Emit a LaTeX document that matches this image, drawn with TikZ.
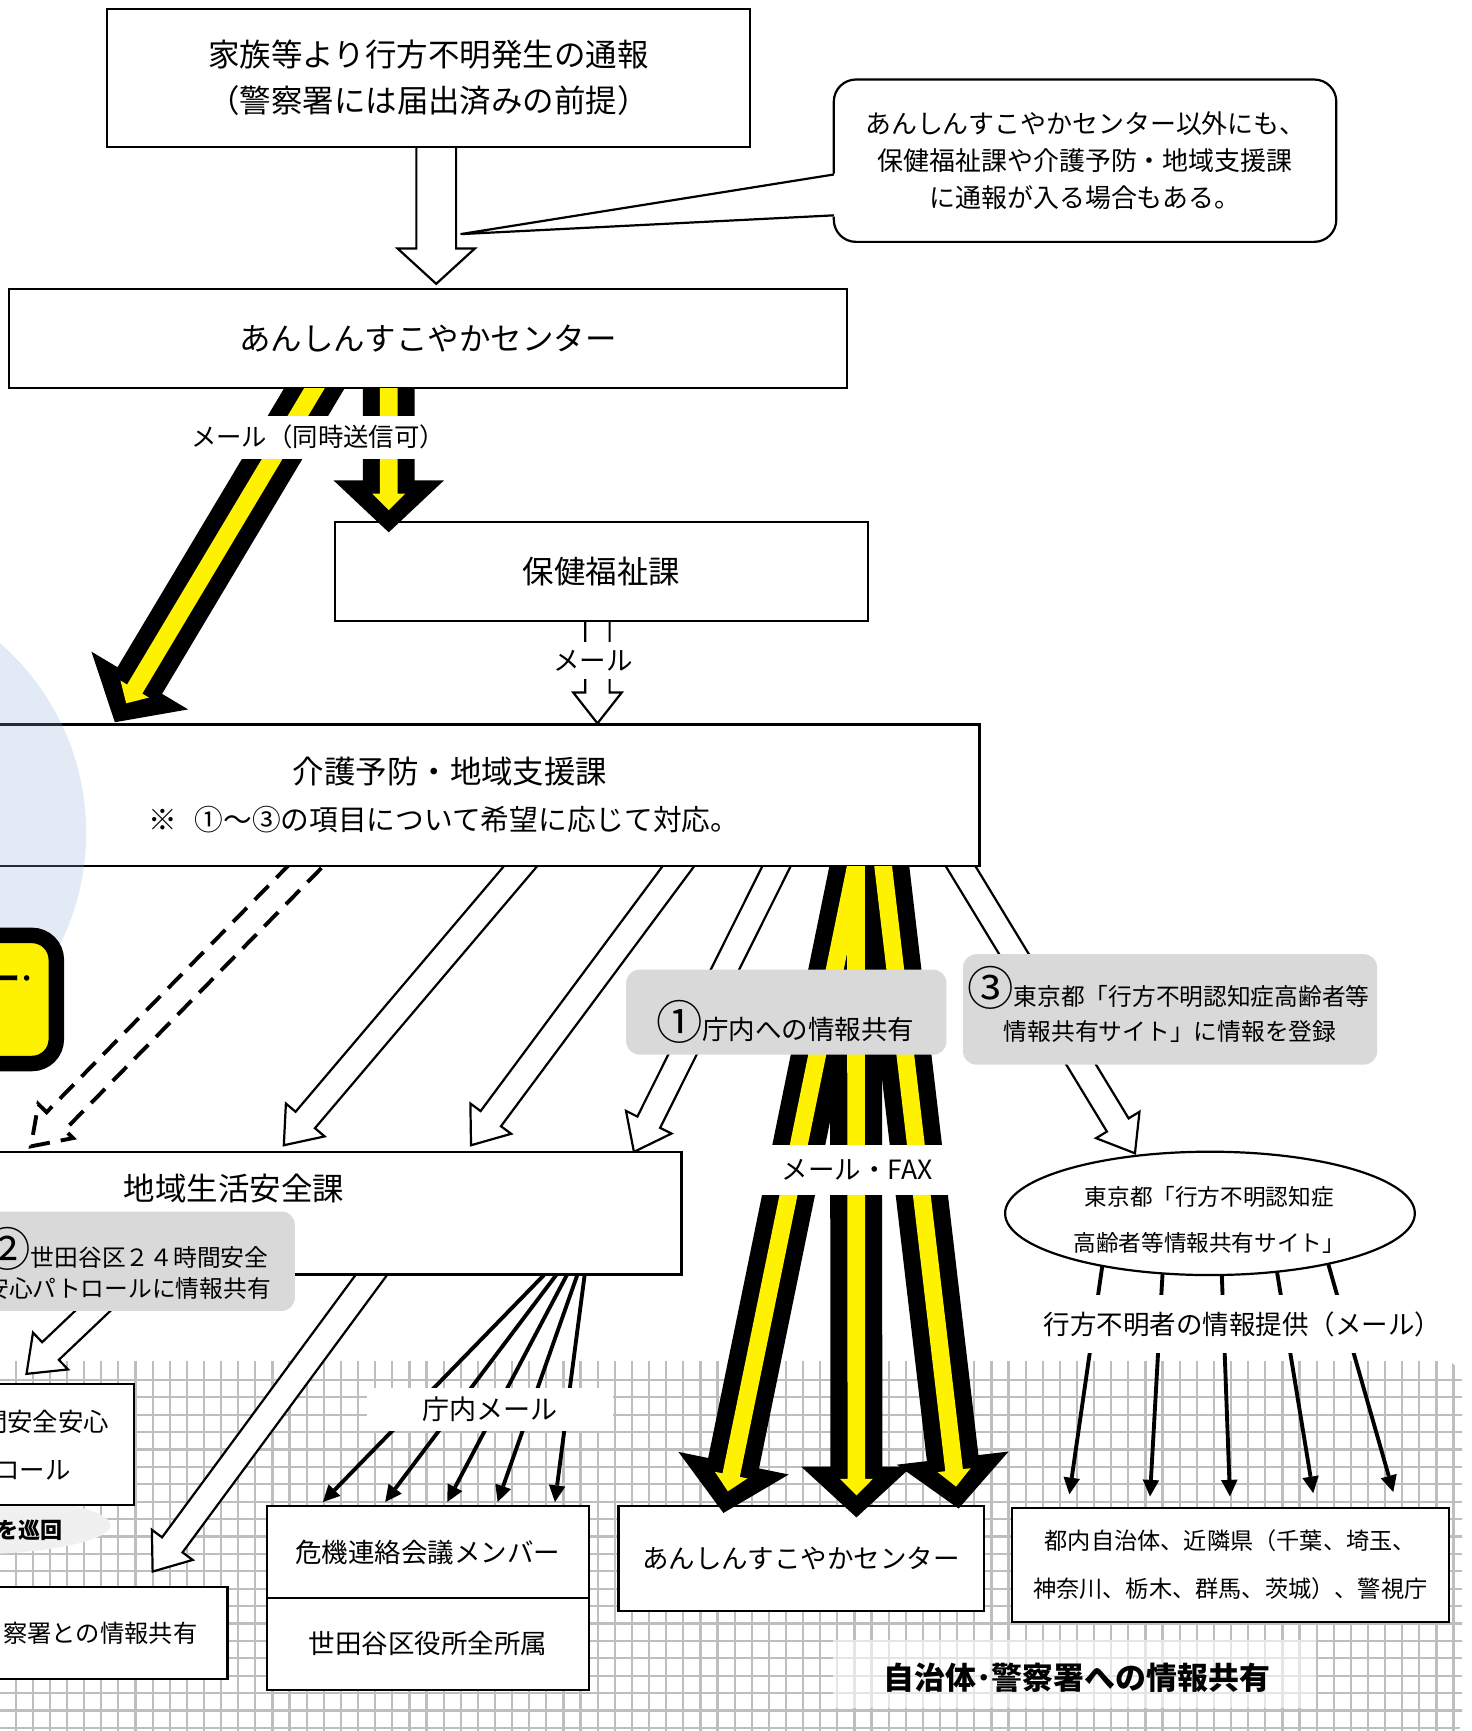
\documentclass[tikz,border=0pt]{standalone}
\usepackage{fontspec}
\setmainfont{Noto Sans CJK JP}
\usetikzlibrary{arrows.meta,shapes.geometric}
\definecolor{lgray}{RGB}{217,217,217}
\definecolor{egray}{RGB}{240,240,240}
\definecolor{gridc}{RGB}{190,190,190}
\definecolor{cblue}{RGB}{140,172,220}
\newcommand\fsz[2]{\fontsize{#1}{#2}\selectfont}
% #1 style, #2 from, #3 to, #4 half shaft, #5 half head, #6 head length, #7 tip setback
\newcommand\blockarr[7]{%
  \path (#2); \pgfgetlastxy{\baX}{\baY}%
  \path (#3); \pgfgetlastxy{\bbX}{\bbY}%
  \pgfmathsetmacro\bANG{atan2((\bbY)-(\baY),(\bbX)-(\baX))}%
  \pgfmathsetmacro\bLEN{100*veclen(((\bbX)-(\baX))/100,((\bbY)-(\baY))/100)-(#7)}%
  \pgfmathsetmacro\bNECK{\bLEN-(#6)}%
  \path[#1,shift={(#2)},rotate=\bANG] (0pt,-#4pt) -- (\bNECK pt,-#4pt) -- (\bNECK pt,-#5pt) -- (\bLEN pt,0pt) -- (\bNECK pt,#5pt) -- (\bNECK pt,#4pt) -- (0pt,#4pt) -- cycle;%
}
\begin{document}
\begin{tikzpicture}[x=1pt,y=-1pt,
  box/.style={draw,line width=2pt,fill=white,inner sep=0pt,align=center},
  glabel/.style={fill=lgray,rounded corners=12pt,inner sep=0pt},
  wlabel/.style={fill=white,inner sep=0pt},
  txt/.style={inner sep=0pt,align=center},
  hollow/.style={fill=white,draw=black,line width=2pt,line join=miter},
  dasharr/.style={draw=black,line width=3.5pt,dash pattern=on 18pt off 10pt},
  youter/.style={fill=black},
  yinner/.style={fill=yellow},
  thinarr/.style={line width=3.5pt,-{Triangle[length=15pt,width=15pt,line width=0pt]}},
  gridline/.style={draw=gridc,line width=2pt},
]
\useasboundingbox (0,0) rectangle (1332,1567.4);
\clip (0,0) rectangle (1332,1567.4);

% ---------- grid area ----------
\begin{scope}
  \clip[rounded corners=18pt] (-20,1232) rectangle (1324,1574);
  \fill[white] (-20,1232) rectangle (1324,1574);
  \foreach \i in {0,...,86} \draw[gridline] ({-1.3+15.5*\i},1232) -- ({-1.3+15.5*\i},1580);
  \foreach \j in {1,...,22} \draw[gridline] (-20,{1233.8+15.75*\j}) -- (1330,{1233.8+15.75*\j});
\end{scope}
\fill[white,opacity=0.6] (754,1485) rectangle (1192,1547);
\node[txt,font=\fsz{28}{28}\bfseries] (title) at (975,1519) {自治体･警察署への情報共有};

% ---------- coordinates ----------
\coordinate (h1s) at (395,120);   \coordinate (h1e) at (395,257);
\coordinate (y1s) at (352,340);   \coordinate (y1e) at (352,482);
\coordinate (y2s) at (291.6,340); \coordinate (y2e) at (104,654);
\coordinate (h2s) at (541,540);   \coordinate (h2e) at (541,655);
\coordinate (dds) at (290.6,770); \coordinate (dde) at (28,1038);
\coordinate (has) at (483.5,770); \coordinate (hae) at (257,1037);
\coordinate (hbs) at (624.9,770); \coordinate (hbe) at (426.5,1037);
\coordinate (hcs) at (710.3,770); \coordinate (hce) at (574,1043);
\coordinate (hds) at (861.1,770); \coordinate (hde) at (1027.7,1044.3);
\coordinate (y3s) at (777.9,770); \coordinate (y3e) at (655,1370);
\coordinate (y4s) at (775,770);   \coordinate (y4e) at (775.5,1374);
\coordinate (y5s) at (798,770);   \coordinate (y5e) at (868,1366);
\coordinate (pts) at (133.4,1140); \coordinate (pte) at (24,1244);
\coordinate (pos) at (346.9,1140); \coordinate (poe) at (138.2,1423);
\coordinate (f1s) at (495,1152);   \coordinate (f1e) at (292.4,1360);
\coordinate (f2s) at (505.5,1152); \coordinate (f2e) at (348.8,1360);
\coordinate (f3s) at (514.6,1152); \coordinate (f3e) at (405,1360);
\coordinate (f4s) at (523.6,1152); \coordinate (f4e) at (450.6,1360);
\coordinate (f5s) at (529.7,1152); \coordinate (f5e) at (502.5,1360);
\coordinate (t1s) at (999,1140);    \coordinate (t1e) at (968.3,1353);
\coordinate (t2s) at (1053.4,1140); \coordinate (t2e) at (1041.3,1355);
\coordinate (t3s) at (1105.8,1140); \coordinate (t3e) at (1113.7,1355);
\coordinate (t4s) at (1154.4,1140); \coordinate (t4e) at (1189.1,1352);
\coordinate (t5s) at (1201.4,1140); \coordinate (t5e) at (1261.6,1351);

% ---------- hollow / dashed / thin arrows (under boxes) ----------
\blockarr{hollow}{h1s}{h1e}{18}{35}{32}{0}
\blockarr{hollow}{h2s}{h2e}{11}{22}{28}{0}
\blockarr{dasharr}{dds}{dde}{11.5}{22}{32}{0}
\blockarr{hollow}{has}{hae}{11.5}{23}{30}{0}
\blockarr{hollow}{hbs}{hbe}{11.5}{23}{30}{0}
\blockarr{hollow}{hcs}{hce}{11.5}{23}{30}{0}
\blockarr{hollow}{hds}{hde}{11.5}{23}{30}{0}
\blockarr{hollow}{pts}{pte}{11}{23}{30}{0}
\blockarr{hollow}{pos}{poe}{11.5}{23}{30}{0}
\foreach \k in {1,...,5} \draw[thinarr] (f\k s) -- (f\k e);
\foreach \k in {1,...,5} \draw[thinarr] (t\k s) -- (t\k e);

% ---------- boxes ----------
\node[box,minimum width=582pt,minimum height=125pt,font=\fsz{28.5}{42}] (top) at (388,70.5)
  {家族等より行方不明発生の通報\\（警察署には届出済みの前提）};
\node[box,rounded corners=20pt,minimum width=455pt,minimum height=147pt,font=\fsz{23.5}{33.5}] (note) at (982.5,145.5)
  {あんしんすこやかセンター以外にも、\\保健福祉課や介護予防・地域支援課\\に通報が入る場合もある。};
\coordinate (ptip) at (417,212);
\fill[white] (757,157) -- (ptip) -- (757,196) -- cycle;
\draw[line width=2pt] (755,158) -- (ptip) -- (755,195);

\node[box,minimum width=759pt,minimum height=89pt,font=\fsz{28.5}{28.5}] (anshin) at (387.5,306.5) {あんしんすこやかセンター};
\node[box,minimum width=483pt,minimum height=89pt,font=\fsz{28.5}{28.5}] (hoken) at (544.5,517.5) {保健福祉課};
\node[box,minimum width=897pt,minimum height=128pt] (kaigo) at (438.5,720) {};
\node[txt,font=\fsz{28.5}{28.5}] (kaigoA) at (407.5,699) {介護予防・地域支援課};
\node[txt,font=\fsz{26}{26}] (kaigoB) at (402,742.5) {※\hspace{0.6em}①～③の項目について希望に応じて対応。};
\node[box,minimum width=627pt,minimum height=111pt] (chiiki) at (303.5,1098.5) {};
\node[txt,font=\fsz{28.5}{28.5}] (chiikiT) at (212,1076) {地域生活安全課};
\node[box,ellipse,minimum width=371pt,minimum height=111.7pt] (tokyo) at (1095.6,1098.7) {};
\node[txt,font=\fsz{20.5}{42.2}] (tokyoT) at (1095,1104.7) {東京都「行方不明認知症\\高齢者等情報共有サイト」};
\fill[egray] (-40,1381) ellipse[x radius=140, y radius=27];
\node[txt,font=\fsz{20}{20}\bfseries,anchor=east] (junkai) at (57,1386) {を巡回};
\node[box,minimum width=131pt,minimum height=110pt] (patrol) at (55.5,1308) {};
\node[txt,font=\fsz{23}{23},anchor=east] (patrolA) at (99,1287) {間安全安心};
\node[txt,font=\fsz{23}{23},anchor=east] (patrolB) at (64,1331) {ロール};
\node[box,minimum width=216pt,minimum height=83pt] (police) at (98,1478.5) {};
\node[txt,font=\fsz{22}{22},anchor=east] (policeT) at (179,1479) {察署との情報共有};
\node[box,minimum width=291pt,minimum height=83pt,font=\fsz{24}{24}] (kiki) at (387.5,1405.5) {危機連絡会議メンバー};
\node[box,minimum width=291pt,minimum height=83pt,font=\fsz{24}{24}] (zen) at (387.5,1488.5) {世田谷区役所全所属};
\node[box,minimum width=331pt,minimum height=95pt,font=\fsz{24}{24}] (anshin2) at (725.5,1411.5) {あんしんすこやかセンター};
\node[box,minimum width=396pt,minimum height=103pt,font=\fsz{21}{43}] (tonai) at (1114,1417) {都内自治体、近隣県（千葉、埼玉、\\神奈川、栃木、群馬、茨城）、警視庁};

% ---------- yellow arrows ----------
\begin{scope}
  \clip (-50,352) rectangle (1400,1600);
  \blockarr{youter}{y1s}{y1e}{23.5}{50}{47}{0}
  \blockarr{youter}{y2s}{y2e}{23.5}{51}{44}{0}
  \blockarr{yinner}{y1s}{y1e}{8}{15}{15}{20}
  \blockarr{yinner}{y2s}{y2e}{8}{15}{15}{20}
\end{scope}
\begin{scope}
  \clip (-50,785) rectangle (1400,1600);
  \blockarr{youter}{y3s}{y3e}{23.5}{51}{46}{0}
  \blockarr{youter}{y4s}{y4e}{23.5}{50}{46}{0}
  \blockarr{youter}{y5s}{y5e}{23.5}{51}{46}{0}
  \blockarr{yinner}{y3s}{y3e}{8}{15}{15}{20}
  \blockarr{yinner}{y4s}{y4e}{8}{15}{15}{20}
  \blockarr{yinner}{y5s}{y5e}{8}{15}{15}{20}
\end{scope}

% ---------- labels ----------
\node[wlabel,inner xsep=6pt,inner ysep=8.5pt,font=\fsz{23}{23}] (mailA) at (288,396) {メール（同時送信可）};
\node[wlabel,inner xsep=4pt,inner ysep=7pt,font=\fsz{24}{24}] (mailB) at (537,598) {メール};
\node[glabel,minimum width=290pt,minimum height=77pt] (lab1) at (712,916.5) {};
\node[txt] (lab1T) at (711,925) {{\fsz{42}{42}①}{\fsz{24}{24}庁内への情報共有}};
\node[glabel,minimum width=375pt,minimum height=100pt] (lab3) at (1059.5,914) {};
\node[txt] (lab3A) at (1058,894.5) {{\fsz{42}{42}③}{\fsz{21.5}{21.5}東京都「行方不明認知症高齢者等}};
\node[txt,font=\fsz{21.5}{21.5}] (lab3B) at (1059.5,934) {情報共有サイト」に情報を登録};
\node[wlabel,minimum width=172pt,minimum height=45pt,font=\fsz{24}{24}] (mailfax) at (776,1059.5) {メール・FAX};
\node[glabel,minimum width=287pt,minimum height=90pt] (lab2) at (123.5,1142) {};
\node[txt] (lab2A) at (114.5,1131) {{\fsz{42}{42}②}{\fsz{21.5}{21.5}世田谷区２４時間安全}};
\node[txt,font=\fsz{21.5}{21.5}] (lab2B) at (116,1167) {安心パトロールに情報共有};
\node[wlabel,minimum width=223pt,minimum height=39pt,font=\fsz{24.5}{24.5}] (chonai) at (443.5,1276) {庁内メール};
\node[wlabel,minimum width=380pt,minimum height=52pt,font=\fsz{24}{24}] (teikyo) at (1125,1199) {行方不明者の情報提供（メール）};

% ---------- left decorations ----------
\fill[cblue,opacity=0.25] (-150,754) circle[radius=228];
\node[draw,line width=14pt,fill=yellow,rounded corners=22pt,minimum width=91pt,minimum height=116pt,inner sep=0pt] (ybox) at (5.5,905) {};
\node[txt,font=\fsz{24}{24}\bfseries,anchor=west] (yboxT) at (-6,889) {ー･};
\end{tikzpicture}
\end{document}
